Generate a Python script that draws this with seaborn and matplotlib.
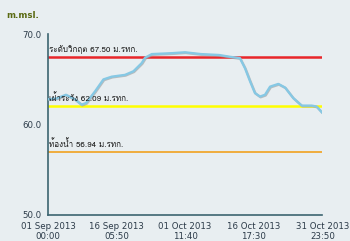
import matplotlib
matplotlib.use("Agg")
import matplotlib.pyplot as plt
import matplotlib.patheffects as pe
import matplotlib.dates as mdates
from matplotlib import font_manager
from matplotlib.ft2font import FT2Font
import seaborn as sns
import pandas as pd
import numpy as np

# ---- data ----
dates = ["2013-09-01 00:00", "2013-09-03 00:00", "2013-09-05 00:00", "2013-09-07 00:00",
         "2013-09-08 12:00", "2013-09-09 12:00", "2013-09-11 12:00", "2013-09-13 08:00",
         "2013-09-15 04:00", "2013-09-18 03:00", "2013-09-20 00:00", "2013-09-21 20:00",
         "2013-09-22 14:00", "2013-09-24 02:00", "2013-09-28 12:00", "2013-10-01 11:00",
         "2013-10-05 00:00", "2013-10-09 00:00", "2013-10-11 12:00", "2013-10-13 16:00",
         "2013-10-14 19:00", "2013-10-15 22:00", "2013-10-17 00:00", "2013-10-18 03:00",
         "2013-10-19 06:00", "2013-10-20 09:00", "2013-10-22 05:00", "2013-10-23 17:00",
         "2013-10-25 12:00", "2013-10-27 10:00", "2013-10-29 15:00", "2013-10-30 17:00",
         "2013-10-31 23:50"]
levels = [62.8, 62.9, 63.3, 62.8, 62.2, 62.4, 63.7, 65.0,
          65.3, 65.5, 65.9, 66.8, 67.4, 67.8, 67.9, 68.0,
          67.8, 67.7, 67.5, 67.35, 66.25, 64.8, 63.5, 63.1,
          63.3, 64.2, 64.5, 64.1, 62.95, 62.1, 62.1, 62.0,
          61.3]
ref_values = [67.50, 62.09, 56.94]
ref_labels = ["ระดับวิกฤต 67.50 ม.รทก.", "เฝ้าระวัง 62.09 ม.รทก.", "ท้องน้ำ 56.94 ม.รทก."]
y_ticks = [50.0, 60.0, 70.0]
x_tick_dates = ["2013-09-01 00:00", "2013-09-16 05:50", "2013-10-01 11:40",
                "2013-10-16 17:30", "2013-10-31 23:50"]
y_title = "m.msl."

# ---- find a font with Thai glyphs ----
def thai_font():
    for f in font_manager.fontManager.ttflist:
        try:
            ft = FT2Font(f.fname)
            if ft.get_char_index(ord("ก")) and ft.get_char_index(ord("ว")):
                return f.name
        except Exception:
            pass
    return None

sns.set_theme(style="white")
tf = thai_font()
fams = ["DejaVu Sans"] + ([tf] if tf else [])
plt.rcParams["font.family"] = fams

bg = "#e8eef1"
axis_col = "#3c6470"
text_col = "#2b3a48"

df = pd.DataFrame({"time": pd.to_datetime(dates), "level": levels})

fig = plt.figure(figsize=(3.5, 2.41), dpi=100, facecolor=bg)
ax = fig.add_axes([0.137, 0.108, 0.784, 0.750])
ax.set_facecolor(bg)

ref_colors = ["#e8262a", "#ffff00", "#f0a830"]
ref_widths = [1.8, 1.8, 1.3]
for v, lab, c, w in zip(ref_values, ref_labels, ref_colors, ref_widths):
    ax.axhline(v, color=c, lw=w, zorder=2)
    ax.text(mdates.date2num(pd.Timestamp(x_tick_dates[0])) + 0.15, v + 0.35, lab,
            fontsize=5.8, color="#1a1a1a", va="bottom", ha="left", zorder=4, family=fams[::-1])

sns.lineplot(data=df, x="time", y="level", ax=ax, color="#86c8e4", lw=1.7, zorder=3,
             path_effects=[pe.SimpleLineShadow(offset=(0.5, -0.5), shadow_color="#9a9a9a", alpha=0.6),
                           pe.Normal()])

xt = pd.to_datetime(x_tick_dates)
ax.set_xlim(xt[0], xt[-1])
ax.set_ylim(50, 70)
ax.set_yticks(y_ticks)
ax.set_yticklabels([f"{t:.1f}" for t in y_ticks])
ax.set_xticks(xt)
ax.set_xticklabels([t.strftime("%d %b %Y\n%H:%M") for t in xt])
ax.set_xlabel("")
ax.set_ylabel("")

for s in ["top", "right"]:
    ax.spines[s].set_visible(False)
for s in ["left", "bottom"]:
    ax.spines[s].set_color(axis_col)
    ax.spines[s].set_linewidth(1.2)
ax.tick_params(axis="both", direction="out", length=3, width=1.0, color=axis_col,
               labelsize=6.2, labelcolor=text_col, pad=1.5)
ax.tick_params(axis="x", pad=2)
ax.grid(False)

fig.text(6 / 350, 1 - 15 / 241, y_title, fontsize=6.2, fontweight="bold", color="#5a6a12",
         va="center", ha="left")

fig.savefig("out.png", dpi=100, facecolor=bg)
